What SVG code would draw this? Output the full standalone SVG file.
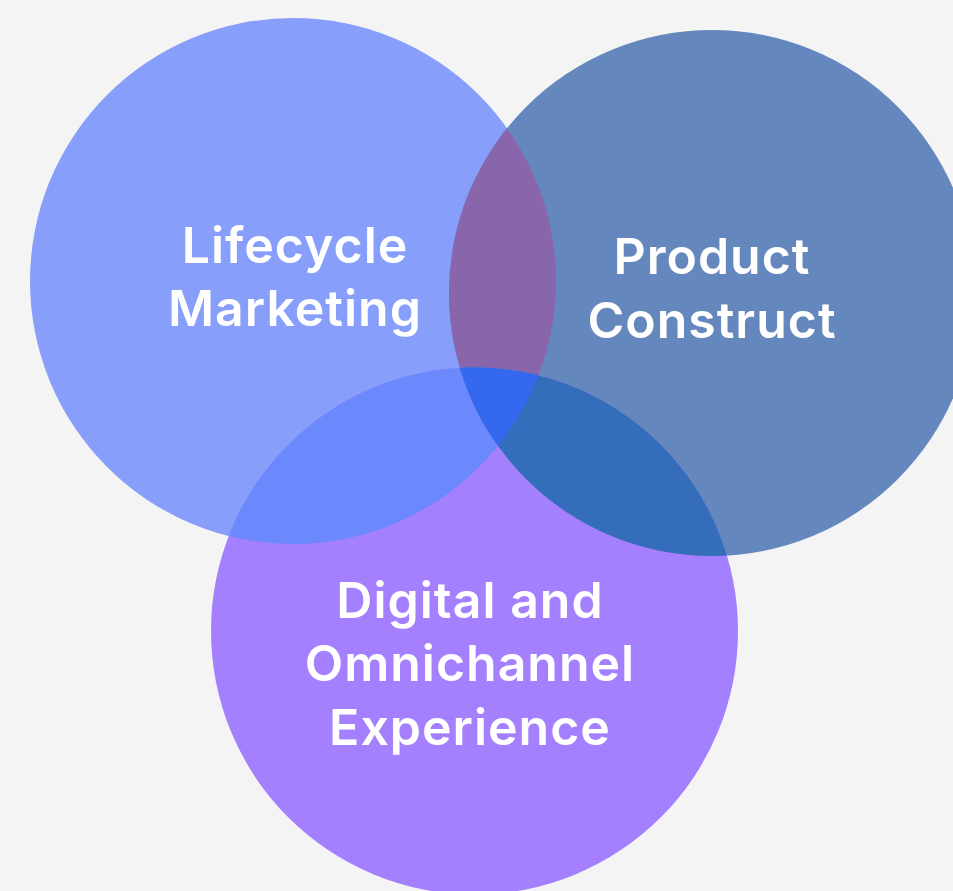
<svg xmlns="http://www.w3.org/2000/svg" width="953" height="891" viewBox="0 0 953 891">
  <style>
    .label { font-family: Inter, "Noto Sans", "Liberation Sans", sans-serif; font-weight: 600; font-size: 50px; letter-spacing: 1px; fill: #ffffff; text-anchor: middle; }
  </style>
  <defs>
    <clipPath id="clipL"><circle cx="293" cy="281" r="263"/></clipPath>
    <clipPath id="clipR"><circle cx="712" cy="293" r="263"/></clipPath>
    <clipPath id="clipB"><circle cx="474.5" cy="631" r="263.5"/></clipPath>
  </defs>
  <rect width="953" height="891" fill="#f4f4f4"/>

  <g id="circles">
    <g id="lifecycle-marketing">
      <circle cx="293" cy="281" r="263" fill="#879efb"/>
    </g>
    <g id="product-construct">
      <circle cx="712" cy="293" r="263" fill="#6488bd"/>
    </g>
    <g id="digital-omnichannel">
      <circle cx="474.5" cy="631" r="263.5" fill="#a580fe"/>
    </g>
    <!-- overlap regions -->
    <g clip-path="url(#clipL)">
      <circle cx="712" cy="293" r="263" fill="#8966ab"/>
      <circle cx="474.5" cy="631" r="263.5" fill="#6b88fc"/>
    </g>
    <g clip-path="url(#clipR)">
      <circle cx="474.5" cy="631" r="263.5" fill="#346ebb"/>
    </g>
    <g clip-path="url(#clipL)">
      <g clip-path="url(#clipR)">
        <circle cx="474.5" cy="631" r="263.5" fill="#3468ee"/>
      </g>
    </g>
  </g>

  <g id="labels">
    <text class="label" x="295" y="263">Lifecycle</text>
    <text class="label" x="295" y="326">Marketing</text>
    <text class="label" x="712" y="274">Product</text>
    <text class="label" x="712" y="338">Construct</text>
    <text class="label" x="470" y="618">Digital and</text>
    <text class="label" x="470" y="681">Omnichannel</text>
    <text class="label" x="470" y="745">Experience</text>
  </g>
</svg>
